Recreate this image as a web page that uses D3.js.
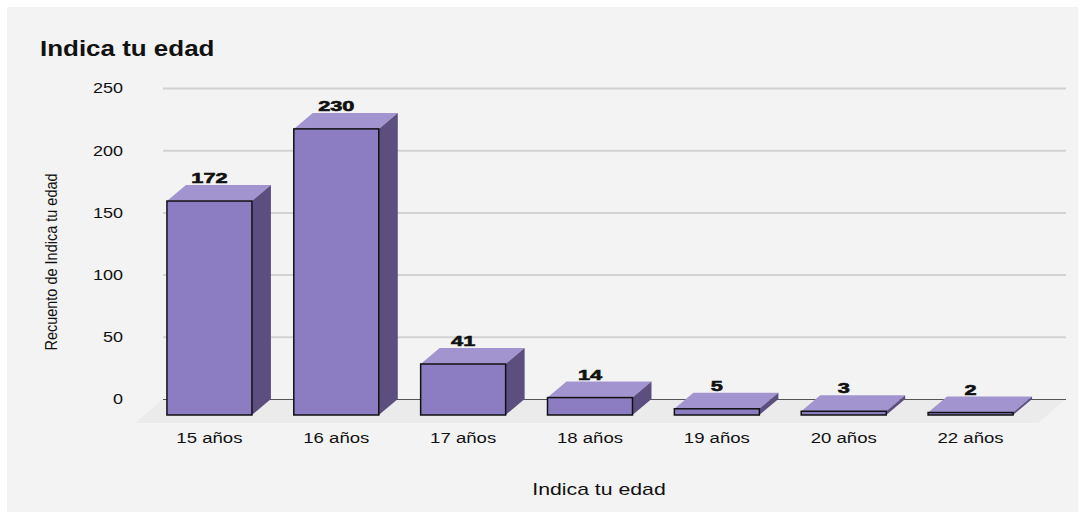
<!DOCTYPE html>
<html>
<head>
<meta charset="utf-8">
<script src="https://cdn.jsdelivr.net/npm/d3@7"></script>
<style>
  body { margin: 0; background: #fff; }
  text { font-family: "Liberation Sans", Arial, sans-serif; fill: #111; }
</style>
</head>
<body>
<div id="chart"></div>
<script>
const categories = ["15 años", "16 años", "17 años", "18 años", "19 años", "20 años", "22 años"];
const counts = [172, 230, 41, 14, 5, 3, 2];
const yTicks = [0, 50, 100, 150, 200, 250];

function main() {
    const width = 1085, height = 519;
    const dx = 19, dy = 16;        // bar depth
    const floorDx = 28, floorDy = 24;

    const svg = d3.select("#chart").append("svg")
        .attr("width", width)
        .attr("height", height)

    svg.append("rect")
        .attr("x", 7).attr("y", 7)
        .attr("width", 1071).attr("height", 505)
        .attr("fill", "#f3f3f3")

    // back plane scale (gridlines), bars are drawn on the front plane
    const y = d3.scaleLinear().domain([0, 250]).range([399, 88])
    const x = d3.scaleBand().domain(categories)
        .range([146, 1034])
        .paddingInner(0.33)
        .paddingOuter(0.165)

    const backLeft = 163, backRight = 1066;

    // floor
    svg.append("polygon")
        .attr("points", [
            [backLeft, y(0)], [backRight, y(0)],
            [backRight - floorDx, y(0) + floorDy], [backLeft - floorDx, y(0) + floorDy]
        ].join(" "))
        .attr("fill", "#ebebeb")

    // gridlines + y labels
    const gy = svg.append("g")
        .attr("transform", `translate(${backLeft},0)`)
        .call(d3.axisLeft(y).tickValues(yTicks).tickSize(-(backRight - backLeft)).tickPadding(0))
    gy.select(".domain").remove()
    gy.selectAll(".tick line")
        .attr("stroke", d => d === 0 ? "#555" : "#d2d2d2")
        .attr("stroke-width", d => d === 0 ? 1.2 : 2)
    gy.selectAll(".tick text")
        .attr("x", 0)
        .attr("transform", "translate(-40,0) scale(1.2,1)")
        .style("font-size", "15px")
        .attr("fill", "#111")

    // bars
    const bars = svg.append("g").selectAll("g")
        .data(categories.map((c, i) => ({ c, v: counts[i] })))
        .join("g")

    const bw = x.bandwidth();
    bars.append("polygon")
        .attr("points", d => {
            const x0 = x(d.c), yb = y(d.v);
            return [[x0, yb + dy], [x0 + dx, yb], [x0 + bw + dx, yb], [x0 + bw, yb + dy]].join(" ")
        })
        .attr("fill", "#a294cf")
    bars.append("polygon")
        .attr("points", d => {
            const x0 = x(d.c), yb = y(d.v);
            return [[x0 + bw, yb + dy], [x0 + bw + dx, yb], [x0 + bw + dx, y(0)], [x0 + bw, y(0) + dy]].join(" ")
        })
        .attr("fill", "#5c4f80")
    bars.append("rect")
        .attr("x", d => x(d.c))
        .attr("y", d => y(d.v) + dy)
        .attr("width", bw)
        .attr("height", d => y(0) - y(d.v))
        .attr("fill", "#8c7cc2")
        .attr("stroke", "#111")
        .attr("stroke-width", 1.5)

    // value labels
    bars.append("text")
        .attr("transform", d => `translate(${x(d.c) + bw / 2},${y(d.v) - 2}) scale(1.45,1)`)
        .attr("text-anchor", "middle")
        .style("font-size", "15px")
        .style("font-weight", "bold")
        .style("stroke", "#111")
        .style("stroke-width", 0.6)
        .text(d => d.v)

    // x axis labels
    const gx = svg.append("g")
        .attr("transform", `translate(0,${y(0) + dy})`)
        .call(d3.axisBottom(x).tickSize(0).tickPadding(0))
    gx.select(".domain").remove()
    gx.selectAll(".tick text")
        .attr("y", 0).attr("dy", 0)
        .attr("transform", "translate(0,28) scale(1.24,1)")
        .style("font-size", "15px")
        .attr("fill", "#111")

    // titles
    svg.append("text")
        .attr("transform", "translate(40,56) scale(1.18,1)")
        .style("font-size", "22px")
        .style("font-weight", "bold")
        .text("Indica tu edad")

    svg.append("text")
        .attr("transform", "translate(599,495) scale(1.25,1)")
        .attr("text-anchor", "middle")
        .style("font-size", "17px")
        .text("Indica tu edad")

    svg.append("text")
        .attr("transform", "translate(57,262) scale(1.12,1) rotate(-90)")
        .attr("text-anchor", "middle")
        .style("font-size", "14.5px")
        .text("Recuento de Indica tu edad")
}
main();
</script>
</body>
</html>
